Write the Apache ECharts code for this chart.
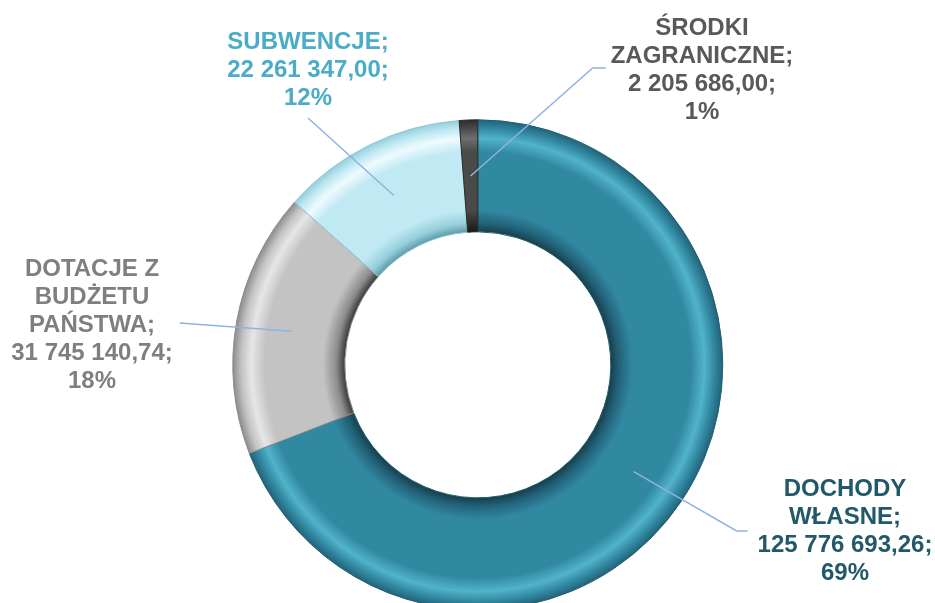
<!DOCTYPE html>
<html>
<head>
<meta charset="utf-8">
<script src="https://cdn.jsdelivr.net/npm/echarts@6/dist/echarts.min.js"></script>
<style>html,body{margin:0;padding:0;background:#fff}#c{width:935px;height:603px}</style>
</head>
<body>
<div id="c"></div>
<script>
const categories = ['DOCHODY\nWŁASNE', 'DOTACJE Z\nBUDŻETU\nPAŃSTWA', 'SUBWENCJE', 'ŚRODKI\nZAGRANICZNE'];
const values = [125776693.26, 31745140.74, 22261347.00, 2205686.00];
const valueLabels = ['125 776 693,26', '31 745 140,74', '22 261 347,00', '2 205 686,00'];
const percentLabels = ['69%', '18%', '12%', '1%'];

const chart = echarts.init(document.getElementById('c'), null, {renderer: 'canvas'});
const W = chart.getWidth(), H = chart.getHeight();
const CX = 0.511 * W, CY = 0.605 * H;
const R0 = 133, R1 = 245;
const f0 = R0 / R1;

function ring(dark, base, light, edge) {
  return new echarts.graphic.RadialGradient(CX, CY, R1, [
    {offset: f0, color: dark},
    {offset: f0 + 0.035, color: edge},
    {offset: f0 + 0.09, color: base},
    {offset: 0.87, color: base},
    {offset: 0.925, color: light},
    {offset: 0.965, color: base},
    {offset: 1, color: edge}
  ], true);
}
const fills = [
  ring('#173f4a', '#3189a1', '#52b3cb', '#22627a'),
  ring('#3a3a3a', '#c3c3c3', '#e6e6e6', '#8c8c8c'),
  ring('#5f9aa8', '#c0e9f3', '#eefbfe', '#95cfdc'),
  ring('#1a1a1a', '#4a4a4a', '#6e6e6e', '#2c2c2c')
];
const borders = ['#245f70', '#8a8a8a', '#8fc6d3', '#2a2a2a'];
const textColors = ['#215968', '#7f7f7f', '#4bacc6', '#595959'];
const labelPos = [[845, 531], [92, 325], [308, 70], [702, 70]];

const total = values.reduce((a, b) => a + b, 0);
const midAngles = [];
let cum = 0;
values.forEach(v => { midAngles.push((cum + v / 2) / total * 2 * Math.PI); cum += v; });

const ringData = categories.map((n, i) => ({
  name: n, value: values[i],
  itemStyle: {color: fills[i], borderColor: borders[i], borderWidth: 1}
}));
const labelData = categories.map((n, i) => ({
  name: n, value: values[i],
  label: {color: textColors[i]}
}));

const common = {
  type: 'pie',
  center: [CX, CY],
  radius: [R0, R1],
  startAngle: 90,
  clockwise: true,
  avoidLabelOverlap: false,
  silent: true
};

chart.setOption({
  animation: false,
  series: [
    Object.assign({}, common, {
      z: 2,
      data: ringData,
      label: {show: false},
      labelLine: {show: false}
    }),
    Object.assign({}, common, {
      z: 5,
      data: labelData,
      itemStyle: {color: 'rgba(0,0,0,0)', borderWidth: 0},
      label: {
        show: true,
        position: 'outside',
        fontFamily: 'Liberation Sans, Arial, sans-serif',
        fontWeight: 'bold',
        fontSize: 24,
        lineHeight: 28,
        align: 'center',
        formatter: p => p.name + ';\n' + valueLabels[p.dataIndex] + ';\n' + percentLabels[p.dataIndex]
      },
      labelLine: {show: true, showAbove: true, lineStyle: {color: '#8db3e2', width: 1.5}},
      labelLayout: function (params) {
        const i = params.dataIndex;
        const w = params.labelRect.width, h = params.labelRect.height;
        const px = labelPos[i][0], py = labelPos[i][1];
        const a = midAngles[i];
        const rm = (R0 + R1) / 2;
        const s = [CX + rm * Math.sin(a), CY - rm * Math.cos(a)];
        let pts;
        if (i === 0) {
          const e = [px - w / 2 - 10, py];
          pts = [s, [e[0] - 11, e[1]], e];
        } else if (i === 1) {
          const e = [px + w / 2 + 7, py - 2];
          pts = [s, e, e];
        } else if (i === 2) {
          const e = [px, py + h / 2 + 6];
          pts = [s, e, e];
        } else {
          const e = [px - w / 2 - 5, py - 2];
          pts = [s, [e[0] - 13, e[1]], e];
        }
        return {x: px, y: py, align: 'center', verticalAlign: 'middle', labelLinePoints: pts};
      }
    })
  ]
});
</script>
</body>
</html>
